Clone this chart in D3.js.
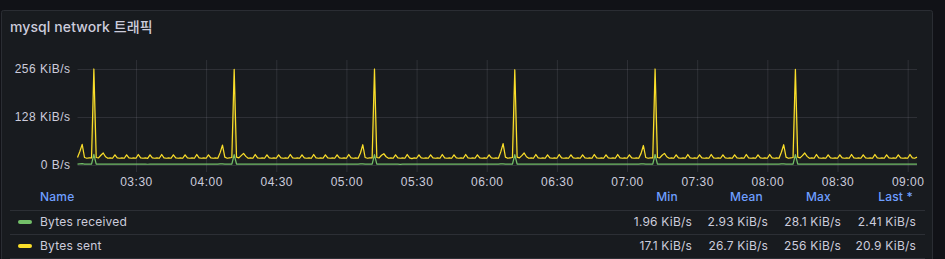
<!DOCTYPE html>
<head>
    <meta charset="utf-8">
    <title>mysql network 트래픽</title>
    <style>
        html, body { margin: 0; padding: 0; background: #111217; }
        svg { display: block; font-family: Inter, "Noto Sans CJK KR", sans-serif; }
        .tick line { stroke: rgba(204, 204, 220, 0.12); }
        .tick text { fill: #ccccdc; font-size: 12px; letter-spacing: 0.5px; }
    </style>
</head>
<body>

<svg width="945" height="259"></svg>

<script src="https://d3js.org/d3.v7.min.js"></script>
<script>

    // one sample per minute, 03:05 .. 09:04
    var startTime = Date.UTC(2024, 0, 1, 3, 5);

    var sentKiB = [
        20, 36, 55, 20, 18, 19, 19, 256, 20, 19, 26, 32, 22, 18, 19, 18, 27, 19, 18, 19, 18, 27, 19, 18, 19, 18, 28, 19, 18, 19,
        17.5, 27, 19, 18, 19, 18, 28, 19, 18, 19, 18, 27, 19, 18, 19, 18, 27, 19, 18, 19, 18, 28, 19, 18, 19, 18, 27, 19, 18, 19,
        18, 33, 53, 21, 18, 19, 20, 255, 21, 19, 25, 31, 23, 18, 19, 18, 28, 19, 18, 19, 18, 27, 19, 18, 19, 18, 27, 19, 18, 19,
        18, 28, 19, 18, 19, 18, 27, 19, 18, 19, 18, 28, 19, 18, 19, 18, 27, 19, 18, 19, 18, 27, 19, 18, 19, 18, 28, 19, 18, 19,
        18, 32, 54, 20, 18, 19, 19, 256, 20, 19, 26, 30, 22, 18, 19, 18, 27, 19, 18, 19, 18, 28, 19, 17.1, 19, 18, 27, 19, 18, 19,
        18, 27, 19, 18, 19, 18, 28, 19, 18, 19, 18, 27, 19, 18, 19, 18, 28, 19, 18, 19, 18, 27, 19, 18, 19, 18, 27, 19, 18, 19,
        18, 35, 57, 21, 18, 19, 20, 254, 21, 19, 25, 32, 22, 18, 19, 18, 28, 19, 18, 19, 18, 27, 19, 18, 19, 18, 28, 19, 18, 19,
        18, 27, 19, 18, 19, 18, 27, 19, 18, 19, 18, 28, 19, 18, 19, 18, 27, 19, 18, 19, 18, 28, 19, 18, 19, 18, 27, 19, 18, 19,
        18, 31, 52, 20, 18, 19, 19, 256, 20, 19, 26, 31, 22, 18, 19, 18, 27, 19, 18, 19, 18, 28, 19, 18, 19, 18, 27, 19, 18, 19,
        18, 28, 19, 18, 19, 18, 27, 19, 18, 19, 18, 27, 19, 18, 19, 18, 28, 19, 18, 19, 18, 27, 19, 18, 19, 18, 28, 19, 18, 19,
        18, 34, 54, 21, 18, 19, 20, 255, 21, 19, 25, 32, 23, 18, 19, 18, 28, 19, 18, 19, 18, 27, 19, 18, 19, 18, 27, 19, 18, 19,
        18, 28, 19, 18, 19, 18, 27, 19, 18, 19, 18, 28, 19, 18, 19, 18, 27, 19, 18, 19, 18, 27, 19, 18, 19, 18, 28, 19, 18, 20.9
    ];

    var receivedKiB = [
        2.3, 3.2, 3.4, 2.4, 2.2, 2.3, 2.5, 28.1, 2.6, 2.3, 2.4, 2.6, 2.4, 2.2, 2.3, 2.2, 2.5, 2.3, 2.2, 2.3, 2.2, 2.5, 2.3, 2.2, 2.3, 2.2, 2.5, 2.3, 2.2, 2.3,
        2.0, 2.5, 2.3, 2.2, 2.3, 2.2, 2.5, 2.3, 2.2, 2.3, 2.2, 2.5, 2.3, 2.2, 2.3, 2.2, 2.5, 2.3, 2.2, 2.3, 2.2, 2.5, 2.3, 2.2, 2.3, 2.2, 2.5, 2.3, 2.2, 2.3,
        2.2, 2.8, 3.0, 2.4, 2.2, 2.3, 2.5, 27.6, 2.6, 2.3, 2.4, 2.6, 2.4, 2.2, 2.3, 2.2, 2.5, 2.3, 2.2, 2.3, 2.2, 2.5, 2.3, 2.2, 2.3, 2.2, 2.5, 2.3, 2.2, 2.3,
        2.2, 2.5, 2.3, 2.2, 2.3, 2.2, 2.5, 2.3, 2.2, 2.3, 2.2, 2.5, 2.3, 2.2, 2.3, 2.2, 2.5, 2.3, 2.2, 2.3, 2.2, 2.5, 2.3, 2.2, 2.3, 2.2, 2.5, 2.3, 2.2, 2.3,
        2.2, 2.8, 3.0, 2.4, 2.2, 2.3, 2.5, 27.9, 2.6, 2.3, 2.4, 2.6, 2.4, 2.2, 2.3, 2.2, 2.5, 2.3, 1.96, 2.3, 2.2, 2.5, 2.3, 2.2, 2.3, 2.2, 2.5, 2.3, 2.2, 2.3,
        2.2, 2.5, 2.3, 2.2, 2.3, 2.2, 2.5, 2.3, 2.2, 2.3, 2.2, 2.5, 2.3, 2.2, 2.3, 2.2, 2.5, 2.3, 2.2, 2.3, 2.2, 2.5, 2.3, 2.2, 2.3, 2.2, 2.5, 2.3, 2.2, 2.3,
        2.2, 2.8, 3.0, 2.4, 2.2, 2.3, 2.5, 27.4, 2.6, 2.3, 2.4, 2.6, 2.4, 2.2, 2.3, 2.2, 2.5, 2.3, 2.2, 2.3, 2.2, 2.5, 2.3, 2.2, 2.3, 2.2, 2.5, 2.3, 2.2, 2.3,
        2.2, 2.5, 2.3, 2.2, 2.3, 2.2, 2.5, 2.3, 2.2, 2.3, 2.2, 2.5, 2.3, 2.2, 2.3, 2.2, 2.5, 2.3, 2.2, 2.3, 2.2, 2.5, 2.3, 2.2, 2.3, 2.2, 2.5, 2.3, 2.2, 2.3,
        2.2, 2.8, 3.0, 2.4, 2.2, 2.3, 2.5, 28.0, 2.6, 2.3, 2.4, 2.6, 2.4, 2.2, 2.3, 2.2, 2.5, 2.3, 2.2, 2.3, 2.2, 2.5, 2.3, 2.2, 2.3, 2.2, 2.5, 2.3, 2.2, 2.3,
        2.2, 2.5, 2.3, 2.2, 2.3, 2.2, 2.5, 2.3, 2.2, 2.3, 2.2, 2.5, 2.3, 2.2, 2.3, 2.2, 2.5, 2.3, 2.2, 2.3, 2.2, 2.5, 2.3, 2.2, 2.3, 2.2, 2.5, 2.3, 2.2, 2.3,
        2.2, 2.8, 3.0, 2.4, 2.2, 2.3, 2.5, 27.7, 2.6, 2.3, 2.4, 2.6, 2.4, 2.2, 2.3, 2.2, 2.5, 2.3, 2.2, 2.3, 2.2, 2.5, 2.3, 2.2, 2.3, 2.2, 2.5, 2.3, 2.2, 2.3,
        2.2, 2.5, 2.3, 2.2, 2.3, 2.2, 2.5, 2.3, 2.2, 2.3, 2.2, 2.5, 2.3, 2.2, 2.3, 2.2, 2.5, 2.3, 2.2, 2.3, 2.2, 2.5, 2.3, 2.2, 2.3, 2.2, 2.5, 2.3, 2.2, 2.41
    ];

    var yTicks = [0, 128, 256];
    var yTickLabels = ["0 B/s", "128 KiB/s", "256 KiB/s"];

    var seriesNames = ["Bytes received", "Bytes sent"];
    var seriesColors = ["#73bf69", "#fade2a"];
    var statHeaders = ["Min", "Mean", "Max", "Last *"];
    var statValues = [
        ["1.96 KiB/s", "2.93 KiB/s", "28.1 KiB/s", "2.41 KiB/s"],
        ["17.1 KiB/s", "26.7 KiB/s", "256 KiB/s", "20.9 KiB/s"]
    ];

    var svg = d3.select("svg");

    // panel
    svg.append("rect")
        .attr("x", 1.5).attr("y", 10.5)
        .attr("width", 931).attr("height", 260)
        .attr("rx", 2)
        .attr("fill", "#181b1f")
        .attr("stroke", "#2a2d33");

    svg.append("text")
        .attr("x", 10).attr("y", 32)
        .attr("fill", "#ccccdc")
        .attr("font-size", "14px")
        .attr("font-weight", 500)
        .attr("letter-spacing", "0.1px")
        .text("mysql network 트래픽");

    var x = d3.scaleUtc()
        .domain([new Date(startTime), new Date(startTime + (sentKiB.length - 1) * 60000)])
        .range([77.5, 917]);

    var y = d3.scaleLinear()
        .domain([0, 256])
        .range([165, 69]);

    var plotTop = 60, plotLeft = 77.5, plotRight = 917;

    // horizontal grid + y labels
    var gy = svg.append("g")
        .attr("transform", "translate(" + plotLeft + ",0)")
        .call(d3.axisLeft(y)
            .tickValues(yTicks)
            .tickSize(-(plotRight - plotLeft))
            .tickPadding(7)
            .tickFormat(function (d, i) { return yTickLabels[i]; }));
    gy.select(".domain").remove();

    // vertical grid + time labels
    var gx = svg.append("g")
        .attr("transform", "translate(0,172)")
        .call(d3.axisBottom(x)
            .ticks(d3.utcMinute.every(30))
            .tickSize(-(172 - plotTop))
            .tickPadding(4)
            .tickFormat(d3.utcFormat("%H:%M")));
    gx.select(".domain").remove();
    gx.selectAll(".tick")
        .filter(function (d) { return d < x.domain()[0] || d.getUTCMinutes() % 30 !== 0; })
        .remove();
    gx.selectAll(".tick text").attr("dy", "0.85em");

    var series = [receivedKiB, sentKiB];

    var defs = svg.append("defs");
    seriesColors.forEach(function (c, i) {
        var grad = defs.append("linearGradient")
            .attr("id", "fill" + i)
            .attr("gradientUnits", "userSpaceOnUse")
            .attr("x1", 0).attr("x2", 0)
            .attr("y1", y(256)).attr("y2", y(0));
        grad.append("stop").attr("offset", 0).attr("stop-color", c).attr("stop-opacity", 0.35);
        grad.append("stop").attr("offset", 1).attr("stop-color", c).attr("stop-opacity", 0);
    });

    var area = d3.area()
        .x(function (d, i) { return x(new Date(startTime + i * 60000)); })
        .y0(y(0))
        .y1(function (d) { return y(d); });

    var line = d3.line()
        .x(function (d, i) { return x(new Date(startTime + i * 60000)); })
        .y(function (d) { return y(d); });

    series.forEach(function (s, i) {
        svg.append("path")
            .datum(s)
            .attr("fill", "url(#fill" + i + ")")
            .attr("d", area);
        svg.append("path")
            .datum(s)
            .attr("fill", "none")
            .attr("stroke", seriesColors[i])
            .attr("stroke-width", 1.25)
            .attr("stroke-linejoin", "round")
            .attr("d", line);
    });

    // legend table
    var statRight = [678, 763, 831, 913];
    var valueRight = [692, 768, 841, 916];

    var legend = svg.append("g")
        .attr("font-size", "12px")
        .attr("letter-spacing", "0.2px");

    legend.append("text")
        .attr("x", 40).attr("y", 201)
        .attr("fill", "#6e9fff")
        .attr("font-weight", 500)
        .text("Name");

    legend.selectAll("text.head")
        .data(statHeaders)
        .enter().append("text")
        .attr("class", "head")
        .attr("x", function (d, i) { return statRight[i]; })
        .attr("y", 201)
        .attr("text-anchor", "end")
        .attr("fill", "#6e9fff")
        .attr("font-weight", 500)
        .text(function (d) { return d; });

    [210.5, 234.5, 258.5].forEach(function (ly) {
        legend.append("line")
            .attr("x1", 10).attr("x2", 925)
            .attr("y1", ly).attr("y2", ly)
            .attr("stroke", "#2c2f35");
    });

    var rows = legend.selectAll("g.row")
        .data(seriesNames)
        .enter().append("g")
        .attr("class", "row")
        .attr("transform", function (d, i) { return "translate(0," + (222 + i * 24) + ")"; });

    rows.append("rect")
        .attr("x", 18).attr("y", -2)
        .attr("width", 14).attr("height", 4)
        .attr("rx", 2)
        .attr("fill", function (d, i) { return seriesColors[i]; });

    rows.append("text")
        .attr("x", 40).attr("dy", "0.35em")
        .attr("fill", "#ccccdc")
        .text(function (d) { return d; });

    rows.each(function (d, i) {
        d3.select(this).selectAll("text.val")
            .data(statValues[i])
            .enter().append("text")
            .attr("class", "val")
            .attr("x", function (v, j) { return valueRight[j]; })
            .attr("dy", "0.35em")
            .attr("text-anchor", "end")
            .attr("fill", "#ccccdc")
            .text(function (v) { return v; });
    });

</script>
</body>
